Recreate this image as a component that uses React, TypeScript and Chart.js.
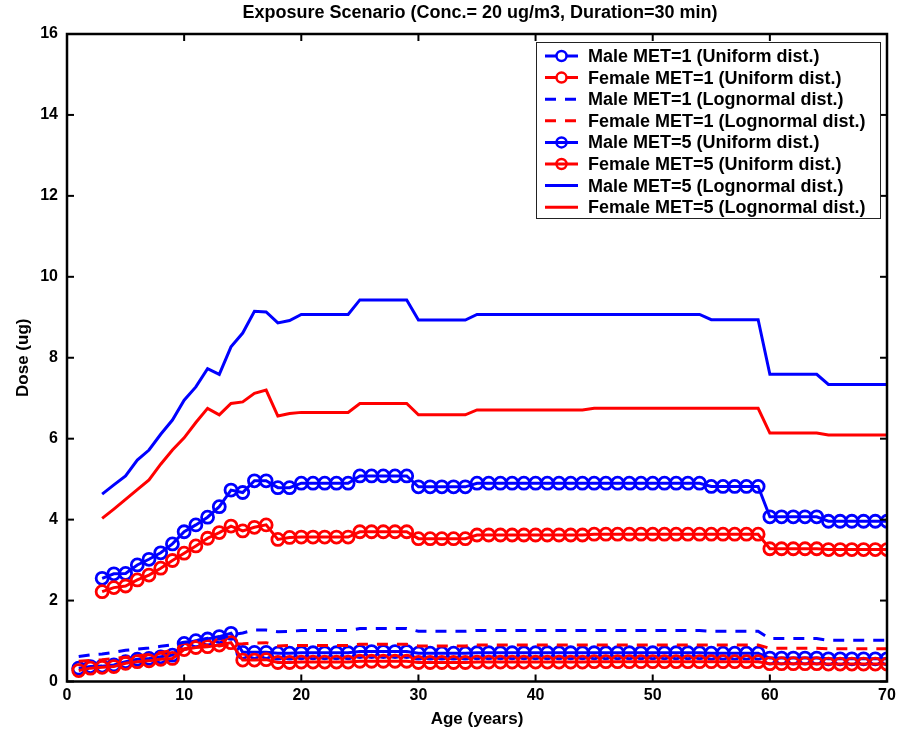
import React, { useEffect, useRef } from "react";
import { Chart, registerables } from "chart.js";

Chart.register(...registerables);

const TITLE = "Exposure Scenario (Conc.= 20 ug/m3, Duration=30 min)";
const X_TITLE = "Age (years)";
const Y_TITLE = "Dose (ug)";

const X_TICKS = [0, 10, 20, 30, 40, 50, 60, 70];
const Y_TICKS = [0, 2, 4, 6, 8, 10, 12, 14, 16];

const AGES_MET1 = [
  1, 2, 3, 4, 5, 6, 7, 8, 9, 10, 11, 12, 13, 14, 15, 16, 17, 18, 19, 20,
  21, 22, 23, 24, 25, 26, 27, 28, 29, 30, 31, 32, 33, 34, 35, 36, 37, 38, 39, 40,
  41, 42, 43, 44, 45, 46, 47, 48, 49, 50, 51, 52, 53, 54, 55, 56, 57, 58, 59, 60,
  61, 62, 63, 64, 65, 66, 67, 68, 69, 70,
];
const AGES_MET5 = [
  3, 4, 5, 6, 7, 8, 9, 10, 11, 12, 13, 14, 15, 16, 17, 18, 19, 20,
  21, 22, 23, 24, 25, 26, 27, 28, 29, 30, 31, 32, 33, 34, 35, 36, 37, 38, 39, 40,
  41, 42, 43, 44, 45, 46, 47, 48, 49, 50, 51, 52, 53, 54, 55, 56, 57, 58, 59, 60,
  61, 62, 63, 64, 65, 66, 67, 68, 69, 70,
];

// MET=1, Uniform dist. (ages 1-70)
const MALE_MET1_UNIFORM = [
  0.33, 0.37, 0.38, 0.41, 0.49, 0.55, 0.57, 0.61, 0.65, 0.94, 1.01, 1.05, 1.11, 1.19,
  0.72, 0.72, 0.72, 0.70, 0.70,
  0.71, 0.71, 0.71, 0.71, 0.71,
  0.74, 0.74, 0.74, 0.74, 0.74,
  0.70, 0.70, 0.70, 0.70, 0.70,
  0.71, 0.71, 0.71, 0.71, 0.71, 0.71, 0.71, 0.71, 0.71, 0.71,
  0.71, 0.71, 0.71, 0.71, 0.71, 0.71, 0.71, 0.71, 0.71, 0.71,
  0.70, 0.70, 0.70, 0.70, 0.70,
  0.58, 0.58, 0.58, 0.58, 0.58,
  0.56, 0.56, 0.56, 0.56, 0.56, 0.56,
];
const FEMALE_MET1_UNIFORM = [
  0.27, 0.33, 0.35, 0.37, 0.45, 0.49, 0.51, 0.55, 0.57, 0.79, 0.84, 0.86, 0.90, 0.96,
  0.53, 0.53, 0.54, 0.47, 0.47,
  0.48, 0.48, 0.48, 0.48, 0.48,
  0.50, 0.50, 0.50, 0.50, 0.50,
  0.47, 0.47, 0.47, 0.47, 0.47,
  0.48, 0.48, 0.48, 0.48, 0.48, 0.48, 0.48, 0.48, 0.48, 0.48,
  0.49, 0.49, 0.49, 0.49, 0.49, 0.49, 0.49, 0.49, 0.49, 0.49,
  0.49, 0.49, 0.49, 0.49, 0.49,
  0.44, 0.44, 0.44, 0.44, 0.44,
  0.43, 0.43, 0.43, 0.43, 0.43, 0.43,
];
// MET=1, Lognormal dist. (ages 1-70)
const MALE_MET1_LOGNORMAL = [
  0.62, 0.66, 0.68, 0.72, 0.77, 0.80, 0.83, 0.87, 0.91, 0.97, 1.01, 1.07, 1.05, 1.15,
  1.20, 1.27, 1.27, 1.23, 1.24,
  1.26, 1.26, 1.26, 1.26, 1.26,
  1.31, 1.31, 1.31, 1.31, 1.31,
  1.24, 1.24, 1.24, 1.24, 1.24,
  1.26, 1.26, 1.26, 1.26, 1.26, 1.26, 1.26, 1.26, 1.26, 1.26,
  1.26, 1.26, 1.26, 1.26, 1.26, 1.26, 1.26, 1.26, 1.26, 1.26,
  1.24, 1.24, 1.24, 1.24, 1.24,
  1.06, 1.06, 1.06, 1.06, 1.06,
  1.02, 1.02, 1.02, 1.02, 1.02, 1.02,
];
const FEMALE_MET1_LOGNORMAL = [
  0.50, 0.52, 0.54, 0.57, 0.60, 0.63, 0.67, 0.72, 0.77, 0.81, 0.86, 0.90, 0.88, 0.92,
  0.93, 0.95, 0.96, 0.88, 0.89,
  0.89, 0.89, 0.89, 0.89, 0.89,
  0.92, 0.92, 0.92, 0.92, 0.92,
  0.88, 0.88, 0.88, 0.88, 0.88,
  0.90, 0.90, 0.90, 0.90, 0.90, 0.90, 0.90, 0.90, 0.90, 0.90,
  0.90, 0.90, 0.90, 0.90, 0.90, 0.90, 0.90, 0.90, 0.90, 0.90,
  0.90, 0.90, 0.90, 0.90, 0.90,
  0.82, 0.82, 0.82, 0.82, 0.82,
  0.81, 0.81, 0.81, 0.81, 0.81, 0.81,
];
// MET=5, Uniform dist. (ages 3-70)
const MALE_MET5_UNIFORM = [
  2.55, 2.66, 2.67, 2.88, 3.02, 3.18, 3.40, 3.70, 3.87, 4.06, 4.32, 4.73, 4.67, 4.96, 4.96, 4.79, 4.79,
  4.90, 4.90, 4.90, 4.90, 4.90,
  5.08, 5.08, 5.08, 5.08, 5.08,
  4.81, 4.81, 4.81, 4.81, 4.81,
  4.90, 4.90, 4.90, 4.90, 4.90, 4.90, 4.90, 4.90, 4.90, 4.90,
  4.90, 4.90, 4.90, 4.90, 4.90, 4.90, 4.90, 4.90, 4.90, 4.90,
  4.82, 4.82, 4.82, 4.82, 4.82,
  4.07, 4.07, 4.07, 4.07, 4.07,
  3.96, 3.96, 3.96, 3.96, 3.96, 3.96,
];
const FEMALE_MET5_UNIFORM = [
  2.22, 2.32, 2.36, 2.51, 2.63, 2.80, 2.99, 3.17, 3.35, 3.54, 3.68, 3.84, 3.72, 3.81, 3.87, 3.51, 3.56,
  3.57, 3.57, 3.57, 3.57, 3.57,
  3.70, 3.70, 3.70, 3.70, 3.70,
  3.53, 3.53, 3.53, 3.53, 3.53,
  3.62, 3.62, 3.62, 3.62, 3.62, 3.62, 3.62, 3.62, 3.62, 3.62,
  3.64, 3.64, 3.64, 3.64, 3.64, 3.64, 3.64, 3.64, 3.64, 3.64,
  3.64, 3.64, 3.64, 3.64, 3.64,
  3.28, 3.28, 3.28, 3.28, 3.28,
  3.26, 3.26, 3.26, 3.26, 3.26, 3.26,
];
// MET=5, Lognormal dist. (ages 3-70)
const MALE_MET5_LOGNORMAL = [
  4.63, 4.86, 5.08, 5.47, 5.72, 6.11, 6.46, 6.95, 7.28, 7.73, 7.59, 8.27, 8.61, 9.15, 9.13, 8.86, 8.92,
  9.07, 9.07, 9.07, 9.07, 9.07,
  9.43, 9.43, 9.43, 9.43, 9.43,
  8.93, 8.93, 8.93, 8.93, 8.93,
  9.07, 9.07, 9.07, 9.07, 9.07, 9.07, 9.07, 9.07, 9.07, 9.07,
  9.07, 9.07, 9.07, 9.07, 9.07, 9.07, 9.07, 9.07, 9.07, 9.07,
  8.94, 8.94, 8.94, 8.94, 8.94,
  7.59, 7.59, 7.59, 7.59, 7.59,
  7.34, 7.34, 7.34, 7.34, 7.34, 7.34,
];
const FEMALE_MET5_LOGNORMAL = [
  4.03, 4.26, 4.50, 4.74, 4.98, 5.37, 5.72, 6.02, 6.40, 6.75, 6.59, 6.87, 6.91, 7.12, 7.20, 6.56, 6.62,
  6.65, 6.65, 6.65, 6.65, 6.65,
  6.87, 6.87, 6.87, 6.87, 6.87,
  6.59, 6.59, 6.59, 6.59, 6.59,
  6.71, 6.71, 6.71, 6.71, 6.71, 6.71, 6.71, 6.71, 6.71, 6.71,
  6.75, 6.75, 6.75, 6.75, 6.75, 6.75, 6.75, 6.75, 6.75, 6.75,
  6.75, 6.75, 6.75, 6.75, 6.75,
  6.14, 6.14, 6.14, 6.14, 6.14,
  6.09, 6.09, 6.09, 6.09, 6.09, 6.09,
];

const LEGEND_LABELS = [
  "Male MET=1 (Uniform dist.)",
  "Female MET=1 (Uniform dist.)",
  "Male MET=1 (Lognormal dist.)",
  "Female MET=1 (Lognormal dist.)",
  "Male MET=5 (Uniform dist.)",
  "Female MET=5 (Uniform dist.)",
  "Male MET=5 (Lognormal dist.)",
  "Female MET=5 (Lognormal dist.)",
];

const BLUE = "#0000ff";
const RED = "#ff0000";
const FONT = "'Liberation Sans', Arial, Helvetica, sans-serif";
const DASH = [11, 9];

type SeriesDef = {
  ages: number[];
  values: number[];
  color: string;
  kind: "circle" | "dash" | "solid";
  openMarker?: boolean;
};

const SERIES: SeriesDef[] = [
  { ages: AGES_MET1, values: MALE_MET1_UNIFORM, color: BLUE, kind: "circle", openMarker: true },
  { ages: AGES_MET1, values: FEMALE_MET1_UNIFORM, color: RED, kind: "circle", openMarker: true },
  { ages: AGES_MET1, values: MALE_MET1_LOGNORMAL, color: BLUE, kind: "dash" },
  { ages: AGES_MET1, values: FEMALE_MET1_LOGNORMAL, color: RED, kind: "dash" },
  { ages: AGES_MET5, values: MALE_MET5_UNIFORM, color: BLUE, kind: "circle" },
  { ages: AGES_MET5, values: FEMALE_MET5_UNIFORM, color: RED, kind: "circle" },
  { ages: AGES_MET5, values: MALE_MET5_LOGNORMAL, color: BLUE, kind: "solid" },
  { ages: AGES_MET5, values: FEMALE_MET5_LOGNORMAL, color: RED, kind: "solid" },
];

const framePlugin = {
  id: "matlabFrame",
  afterDraw(chart: any) {
    const { ctx, chartArea: a, scales } = chart;
    ctx.save();
    const seg = (x1: number, y1: number, x2: number, y2: number) => {
      ctx.beginPath();
      ctx.moveTo(x1, y1);
      ctx.lineTo(x2, y2);
      ctx.stroke();
    };

    // title
    ctx.fillStyle = "#000";
    ctx.font = `bold 18px ${FONT}`;
    ctx.textAlign = "center";
    ctx.textBaseline = "middle";
    ctx.fillText(TITLE, (a.left + a.right) / 2 + 3, 13);

    // ticks & box
    ctx.strokeStyle = "#000";
    ctx.lineWidth = 2;
    const tl = 7;
    X_TICKS.forEach((v) => {
      const x = scales.x.getPixelForValue(v);
      seg(x, a.bottom, x, a.bottom - tl);
      seg(x, a.top, x, a.top + tl);
    });
    Y_TICKS.forEach((v) => {
      const y = scales.y.getPixelForValue(v);
      seg(a.left, y, a.left + tl, y);
      seg(a.right, y, a.right - tl, y);
    });
    ctx.lineWidth = 2.5;
    ctx.strokeRect(a.left, a.top, a.right - a.left, a.bottom - a.top);

    // legend
    const bx = 536, by = 42, bw = 344, bh = 176;
    ctx.fillStyle = "#fff";
    ctx.fillRect(bx, by, bw, bh);
    ctx.lineWidth = 1;
    ctx.strokeStyle = "#222";
    ctx.strokeRect(bx + 0.5, by + 0.5, bw, bh);
    ctx.font = `bold 18px ${FONT}`;
    ctx.textBaseline = "middle";
    ctx.textAlign = "left";
    SERIES.forEach((s, i) => {
      const y = by + 14 + i * 21.6;
      ctx.strokeStyle = s.color;
      ctx.lineWidth = 3;
      ctx.setLineDash(s.kind === "dash" ? DASH : []);
      seg(545, y, 578, y);
      ctx.setLineDash([]);
      if (s.kind === "circle") {
        ctx.beginPath();
        ctx.arc(561.5, y, 5, 0, Math.PI * 2);
        if (s.openMarker) {
          ctx.fillStyle = "#fff";
          ctx.fill();
        }
        ctx.lineWidth = 2.5;
        ctx.stroke();
        if (!s.openMarker) {
          ctx.lineWidth = 2;
          seg(556, y, 567, y);
        }
      }
      ctx.fillStyle = "#000";
      ctx.fillText(LEGEND_LABELS[i], 588, y + 1);
    });
    ctx.restore();
  },
};

export default function App() {
  const canvasRef = useRef<HTMLCanvasElement | null>(null);

  useEffect(() => {
    const canvas = canvasRef.current;
    if (!canvas) return;
    const datasets = SERIES.map((s, i) => ({
      label: LEGEND_LABELS[i],
      data: s.ages.map((age, k) => ({ x: age, y: s.values[k] })),
      borderColor: s.color,
      backgroundColor: s.color,
      borderWidth: 3,
      borderDash: s.kind === "dash" ? DASH : [],
      pointRadius: s.kind === "circle" ? 6 : 0,
      pointHoverRadius: 0,
      pointBorderWidth: 2.8,
      pointBorderColor: s.color,
      pointBackgroundColor: "rgba(0,0,0,0)",
      pointStyle: "circle",
      fill: false,
      tension: 0,
      order: SERIES.length - i,
    }));

    const chart = new Chart(canvas, {
      type: "line",
      data: { datasets },
      plugins: [framePlugin],
      options: {
        responsive: false,
        animation: false,
        events: [],
        layout: { padding: { left: 0, right: 22, top: 34, bottom: 0 } },
        plugins: {
          legend: { display: false },
          tooltip: { enabled: false },
          title: { display: false },
        },
        scales: {
          x: {
            type: "linear",
            min: 0,
            max: 70,
            grid: { display: false, drawTicks: false, tickLength: 0 },
            border: { display: false },
            ticks: {
              stepSize: 10,
              color: "#000",
              padding: 4,
              maxRotation: 0,
              font: { family: FONT, size: 16, weight: "bold" },
            },
            title: {
              display: true,
              text: X_TITLE,
              color: "#000",
              font: { family: FONT, size: 17, weight: "bold" },
              padding: { top: 0, bottom: 2 },
            },
            afterFit: (s: any) => {
              s.height = 50.5;
            },
          },
          y: {
            type: "linear",
            min: 0,
            max: 16,
            grid: { display: false, drawTicks: false, tickLength: 0 },
            border: { display: false },
            ticks: {
              stepSize: 2,
              color: "#000",
              padding: 9,
              font: { family: FONT, size: 16, weight: "bold" },
            },
            title: {
              display: true,
              text: Y_TITLE,
              color: "#000",
              font: { family: FONT, size: 17, weight: "bold" },
              padding: { top: 13, bottom: 0 },
            },
            afterFit: (s: any) => {
              s.width = 67;
            },
          },
        },
      },
    } as any);
    return () => chart.destroy();
  }, []);

  return (
    <div style={{ position: "absolute", left: 0, top: 0, width: 909, height: 732, background: "#fff" }}>
      <canvas ref={canvasRef} width={909} height={732} style={{ display: "block", width: 909, height: 732 }} />
    </div>
  );
}
